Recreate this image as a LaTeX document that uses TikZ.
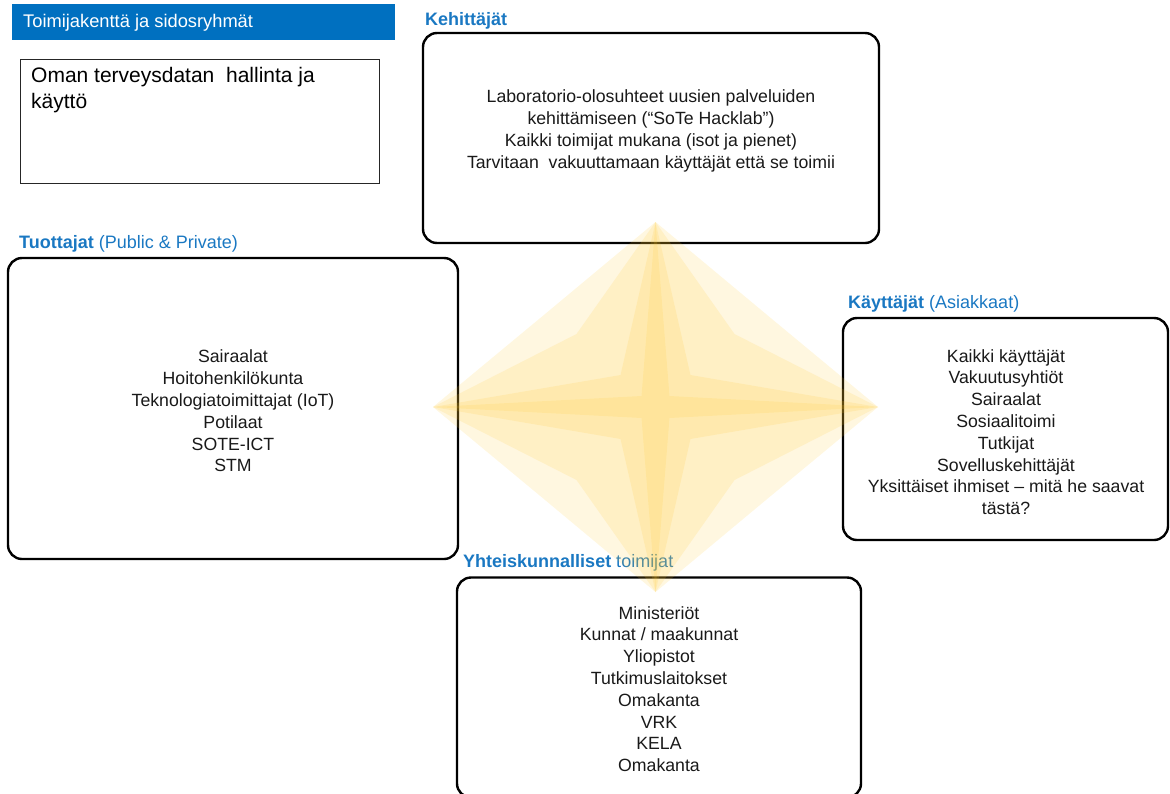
\documentclass[tikz,border=0pt]{standalone}
\usepackage{fontspec}
\setmainfont{Liberation Sans}
\definecolor{hdrblue}{HTML}{0070C0}
\definecolor{labblue}{HTML}{1A78C2}
\definecolor{stargold}{HTML}{FFC72C}
\begin{document}
\begin{tikzpicture}[x=1pt,y=-1pt,
  rbox/.style={draw=black, line width=2.4pt, rounded corners=14pt, inner sep=0pt, outer sep=0pt},
  body/.style={align=center, font=\fontsize{17.7}{21.8}\selectfont, text=black!90, inner sep=0pt},
  lab/.style={font=\fontsize{18}{21}\selectfont, text=labblue, inner sep=0pt, anchor=base west},
  starfill/.style={fill=stargold, fill opacity=0.15}]
\useasboundingbox (0,0) rectangle (1170,793);
\clip (0,0) rectangle (1170,793);
% header
\node[fill=hdrblue, minimum width=383pt, minimum height=36pt, inner sep=0pt, anchor=north west] (hdr) at (12,4) {};
\node[font=\fontsize{18.3}{21}\selectfont, text=white, inner sep=0pt, anchor=base west] (hdrtxt) at (23,27) {Toimijakenttä ja sidosryhmät};
% topic box
\node[draw=black!85, line width=1pt, minimum width=359pt, minimum height=124pt, inner sep=0pt, anchor=north west] (topic) at (20,59) {};
\node[font=\fontsize{21}{26}\selectfont, align=left, inner sep=0pt, anchor=north west] (topictxt) at (31,67) {Oman terveysdatan\ \ hallinta ja\\käyttö};
% Kehittajat
\node[lab] (kehlab) at (425,25) {\textbf{Kehittäjät}};
\node[rbox, minimum width=456pt, minimum height=210pt] (kehbox) at (651,138) {};
\node[body] (kehtxt) at (651,131) {Laboratorio-olosuhteet uusien palveluiden\\kehittämiseen (“SoTe Hacklab”)\\Kaikki toimijat mukana (isot ja pienet)\\Tarvitaan\ \ vakuuttamaan käyttäjät että se toimii};
% Tuottajat
\node[lab] (tuolab) at (19,248) {\textbf{Tuottajat} (Public \& Private)};
\node[rbox, minimum width=450pt, minimum height=301pt] (tuobox) at (233,408.5) {};
\node[body] (tuotxt) at (233,411) {Sairaalat\\Hoitohenkilökunta\\Teknologiatoimittajat (IoT)\\Potilaat\\SOTE-ICT\\STM};
% Kayttajat
\node[lab] (kaylab) at (848,308) {\textbf{Käyttäjät} (Asiakkaat)};
\node[rbox, minimum width=325pt, minimum height=222pt] (kaybox) at (1005.5,429) {};
\node[body] (kaytxt) at (1006,432) {Kaikki käyttäjät\\Vakuutusyhtiöt\\Sairaalat\\Sosiaalitoimi\\Tutkijat\\Sovelluskehittäjät\\Yksittäiset ihmiset – mitä he saavat\\tästä?};
% Yhteiskunnalliset
\node[lab] (yhtlab) at (463,567) {\textbf{Yhteiskunnalliset} toimijat};
\node[rbox, minimum width=404pt, minimum height=220pt, anchor=north] (yhtbox) at (659,577.5) {};
\node[body] (yhttxt) at (659,689) {Ministeriöt\\Kunnat / maakunnat\\Yliopistot\\Tutkimuslaitokset\\Omakanta\\VRK\\KELA\\Omakanta};
% star
\coordinate (sc) at (655.5,407);
\foreach \a/\b in {111/92.5, 79/73, 35/32, 14/11}{
  \fill[starfill] (655.5,222) -- ({655.5+\a},{407-\b}) -- (878,407) -- ({655.5+\a},{407+\b})
    -- (655.5,592) -- ({655.5-\a},{407+\b}) -- (433,407) -- ({655.5-\a},{407-\b}) -- cycle;
}
\end{tikzpicture}
\end{document}
